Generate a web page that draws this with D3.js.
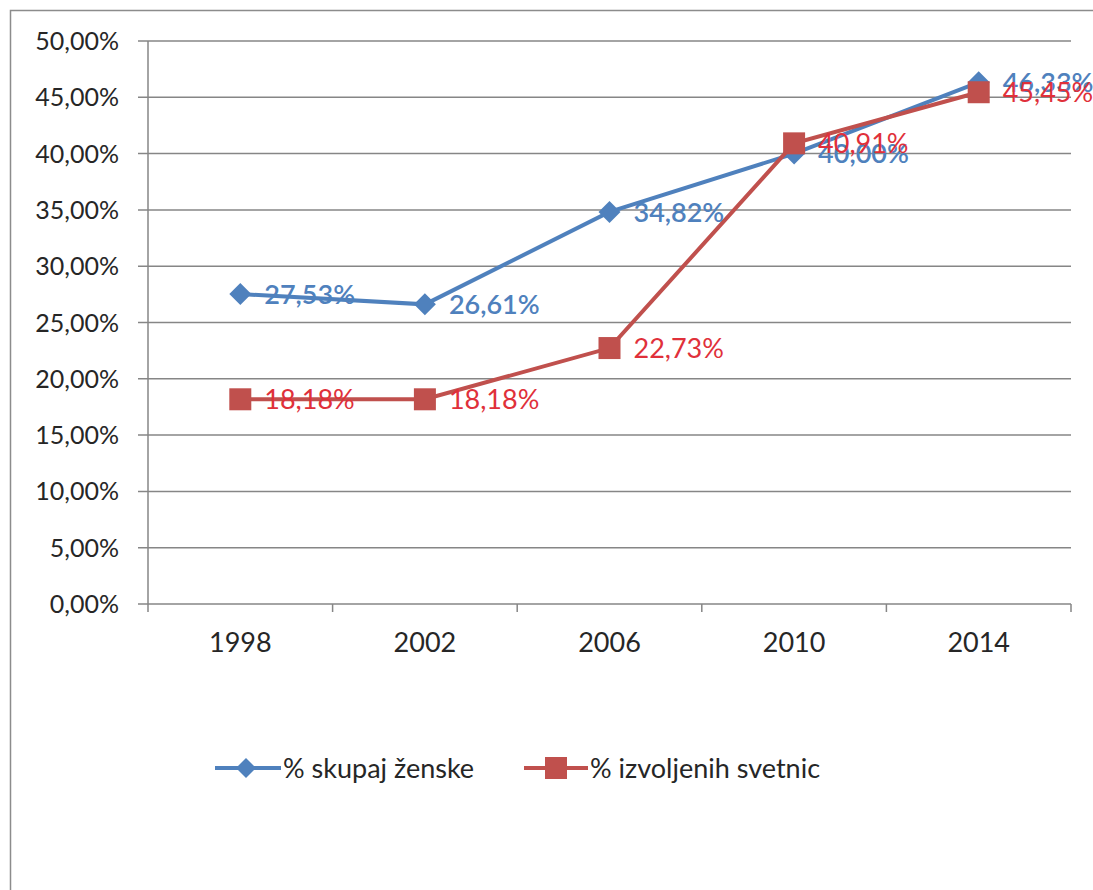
<!DOCTYPE html>
<html><head><meta charset="utf-8">
<script src="https://cdn.jsdelivr.net/npm/d3@7"></script>
<style>body{margin:0;background:#fff;}svg{display:block;font-family:Lato,"Open Sans",sans-serif;}</style>
</head><body>
<svg id="c" width="1093" height="890"></svg>
<script>
const years = ["1998","2002","2006","2010","2014"];
const skupajZenske = [27.53, 26.61, 34.82, 40.00, 46.33];
const izvoljenihSvetnic = [18.18, 18.18, 22.73, 40.91, 45.45];
const yTicks = [0,5,10,15,20,25,30,35,40,45,50];
const seriesNames = ["% skupaj ženske", "% izvoljenih svetnic"];

(function(){
const svg = d3.select("#c");
const fmt = v => v.toFixed(2).replace(".", ",") + "%";
svg.append("rect").attr("x",10.5).attr("y",10.5).attr("width",1200).attr("height",1000)
  .attr("fill","none").attr("stroke","#8c8c8c").attr("stroke-width",1.5);

const pLeft=148, pRight=1071, pTop=41, pBottom=604;
const x = d3.scaleBand().domain(years).range([pLeft,pRight]);
const y = d3.scaleLinear().domain([0,50]).range([pBottom,pTop]);

svg.append("g").selectAll("line").data(yTicks).join("line")
  .attr("x1",pLeft-10).attr("x2",pRight).attr("y1",d=>y(d)).attr("y2",d=>y(d))
  .attr("stroke","#868686").attr("stroke-width",1.5);
svg.append("line").attr("x1",pLeft).attr("x2",pLeft).attr("y1",pTop).attr("y2",pBottom)
  .attr("stroke","#868686").attr("stroke-width",1.5);
const bounds = years.map(d=>x(d)).concat([pRight]);
svg.append("g").selectAll("line").data(bounds).join("line")
  .attr("x1",d=>d).attr("x2",d=>d).attr("y1",pBottom).attr("y2",pBottom+8)
  .attr("stroke","#868686").attr("stroke-width",1.5);
svg.append("g").selectAll("text").data(yTicks).join("text")
  .attr("x",119).attr("y",d=>y(d)).attr("dy","0.36em").attr("text-anchor","end")
  .attr("font-size",25).attr("fill","#262626").text(d=>fmt(d));
svg.append("g").selectAll("text").data(years).join("text")
  .attr("x",d=>x(d)+x.bandwidth()/2).attr("y",642).attr("dy","0.36em").attr("text-anchor","middle")
  .attr("font-size",27).attr("fill","#262626").text(d=>d);

const cx = d=>x(d)+x.bandwidth()/2;
const line = d3.line().x((d,i)=>cx(years[i])).y(d=>y(d));
const blue="#4F81BD", red="#C0504D";
const blueLbl="#4F81BD", redLbl="#E0303A";

function drawSeries(vals,color,shape){
  svg.append("path").datum(vals).attr("d",line).attr("fill","none").attr("stroke",color).attr("stroke-width",4);
  const g=svg.append("g");
  vals.forEach((v,i)=>{
    const px=cx(years[i]), py=y(v);
    if(shape==="diamond"){
      g.append("path").attr("d",`M${px},${py-11}L${px+11},${py}L${px},${py+11}L${px-11},${py}Z`).attr("fill",color);
    } else {
      g.append("rect").attr("x",px-11).attr("y",py-11).attr("width",22).attr("height",22).attr("fill",color);
    }
  });
}
drawSeries(skupajZenske,blue,"diamond");
drawSeries(izvoljenihSvetnic,red,"square");

function labels(vals,color,weight){
  svg.append("g").selectAll("text").data(vals).join("text")
    .attr("x",(d,i)=>cx(years[i])+24).attr("y",d=>y(d)).attr("dy","0.36em")
    .attr("font-size",27).attr("font-weight",weight).attr("fill",color).text(d=>fmt(d));
}
labels(skupajZenske,blueLbl,600);
labels(izvoljenihSvetnic,redLbl,400);

const lg = svg.append("g");
const ly=768;
lg.append("line").attr("x1",215).attr("x2",281).attr("y1",ly).attr("y2",ly).attr("stroke",blue).attr("stroke-width",4);
lg.append("path").attr("d",`M246,${ly-10}L256,${ly}L246,${ly+10}L236,${ly}Z`).attr("fill",blue);
lg.append("text").attr("x",283).attr("y",ly).attr("dy","0.36em").attr("font-size",27).attr("fill","#262626").text(seriesNames[0]);
lg.append("line").attr("x1",524).attr("x2",588).attr("y1",ly).attr("y2",ly).attr("stroke",red).attr("stroke-width",4);
lg.append("rect").attr("x",545).attr("y",ly-11).attr("width",22).attr("height",22).attr("fill",red);
lg.append("text").attr("x",590).attr("y",ly).attr("dy","0.36em").attr("font-size",27).attr("fill","#262626").text(seriesNames[1]);
})();
</script>
</body></html>
